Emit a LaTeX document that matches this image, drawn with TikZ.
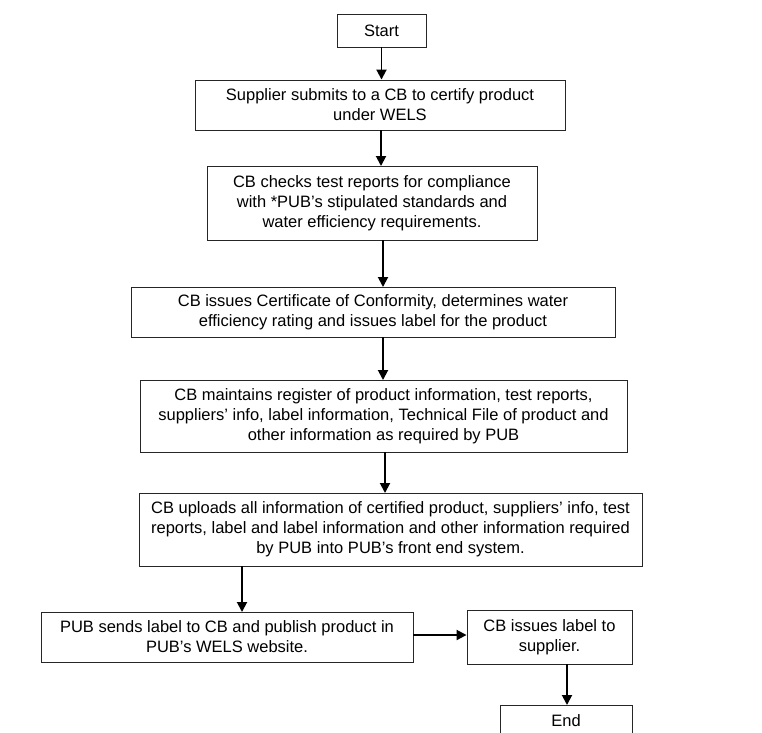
\documentclass[tikz,border=0pt]{standalone}
\usepackage{fontspec}
\setmainfont{Liberation Sans}
\usetikzlibrary{arrows.meta}
\begin{document}
\begin{tikzpicture}[x=1pt,y=-1pt,
  box/.style={draw=black!85,line width=0.9pt,fill=white,inner sep=0pt,align=center,
    font=\fontsize{16.5}{20}\selectfont},
  conn/.style={line width=1.9pt,-{Triangle[length=10pt,width=10pt]}}]
\useasboundingbox (0,0) rectangle (762,732);
\clip (0,0) rectangle (762,732);
\node[box,minimum width=89pt,minimum height=33pt] (start) at (381.5,30.5) {Start};
\node[box,minimum width=370pt,minimum height=50pt] (sub) at (380,105) {Supplier submits to a CB to certify product\\under WELS};
\node[box,minimum width=330pt,minimum height=74pt] (chk) at (372,203) {CB checks test reports for compliance\\with *PUB’s stipulated standards and\\water efficiency requirements.};
\node[box,minimum width=484pt,minimum height=50pt] (iss) at (373,312) {CB issues Certificate of Conformity, determines water\\efficiency rating and issues label for the product};
\node[box,minimum width=487pt,minimum height=72pt] (reg) at (383.5,416) {CB maintains register of product information, test reports,\\suppliers’ info, label information, Technical File of product and\\other information as required by PUB};
\node[box,minimum width=503pt,minimum height=73pt] (upl) at (390.5,529.5) {CB uploads all information of certified product, suppliers’ info, test\\reports, label and label information and other information required\\by PUB into PUB’s front end system.};
\node[box,minimum width=372pt,minimum height=50pt] (pub) at (227,637) {PUB sends label to CB and publish product in\\PUB’s WELS website.};
\node[box,minimum width=165pt,minimum height=54pt] (lab) at (549.5,637) {CB issues label to\\supplier.};
\node[box,minimum width=132pt,minimum height=54pt,anchor=north] (end) at (566,705) {};
\node[font=\fontsize{16.5}{20}\selectfont] (endt) at (566,721) {End};
\draw[conn] (start.south) -- (sub.north -| start.south);
\draw[conn] (381,130) -- (381,166);
\draw[conn] (383,240) -- (383,287);
\draw[conn] (383,337) -- (383,380);
\draw[conn] (385,452) -- (385,493);
\draw[conn] (242,566) -- (242,612);
\draw[conn] (pub.east |- 0,635) -- (lab.west |- 0,635);
\draw[conn] (567,664) -- (567,705);
\end{tikzpicture}
\end{document}
